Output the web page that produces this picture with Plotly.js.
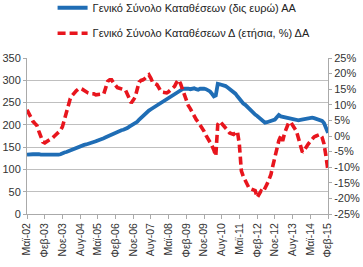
<!DOCTYPE html>
<html><head><meta charset="utf-8">
<script src="https://cdn.plot.ly/plotly-3.0.1.min.js"></script>
<style>html,body{margin:0;padding:0;background:#fff;}#chart{width:363px;height:267px;}</style>
</head><body><div id="chart"></div>
<script>
// Monthly data, May 2002 .. Feb 2015
const startYear = 2002, startMonth = 5;
const depositsBn = [
133,134,135,134,134,135,134,133,133,132,
132,131,131,131,132,133,133,134,137,138,
139,141,142,144,146,148,150,152,154,155,
156,157,158,160,162,163,165,166,168,170,
172,174,176,179,182,184,186,187,188,189,
190,193,196,199,200,203,207,212,216,220,
225,228,232,235,238,240,243,246,248,251,
254,257,259,262,266,269,272,276,279,280,
281,282,281,280,281,282,280,279,281,282,
281,280,278,275,270,264,266,292,291,290,
289,287,284,281,278,274,270,264,258,253,
248,245,240,236,231,226,223,220,216,213,
208,205,206,207,208,209,212,217,222,219,
218,216,215,214,213,212,212,211,210,211,
212,211,212,214,216,216,215,214,213,212,
209,204,194,182];
const depositsYoY = [
8.4,7,5.8,4.7,4,3.4,1.5,-0.5,-1.9,-2.2,
-1.9,-1.3,-1,-0.6,0,0.5,1,1.8,3,5.5,
7.5,10,12,13,14,14.5,15,15.3,15,14.5,
14,13.8,13.6,13.7,13.5,13.2,13.3,13.2,13.4,13.5,
15.5,17.5,18,18,17,16,15.5,15.3,15,14.9,
14.8,13.5,12,10.6,11.5,12.5,15,17.3,17.8,18,
18.5,19,19.6,18.5,17,16.8,16.5,15.5,14.3,14,
13.9,13.8,14.2,14.8,15.4,15.9,17.2,18,16.8,15,
13,11,9.8,8.8,7.5,6.2,5.3,4.5,3.5,2.8,
1.5,0.2,-0.8,-1.8,-3,-4.5,-6.4,3.7,4.7,4,
3.3,2.8,1.8,1,0.7,0.5,1,1.5,-2.7,-11.2,
-13,-14.5,-16,-16.8,-17,-17.2,-17.5,-19.7,-18.5,-17.6,
-18,-17,-15.5,-14,-12.3,-9.5,-6.9,-3.5,-1.5,0,
-1.6,1,2.8,4.2,4.5,3.7,2.5,1.5,-0.8,-3,
-5.2,-4.5,-3.8,-2.6,-1.8,-0.8,-0.3,0,0.3,0.5,
-0.4,-2.5,-6.5,-11.2];
const tickLabels = ['Μαϊ-02','Φεβ-03','Νοε-03','Αυγ-04','Μαϊ-05','Φεβ-06','Νοε-06','Αυγ-07','Μαϊ-08',
'Φεβ-09','Νοε-09','Αυγ-10','Μαϊ-11','Φεβ-12','Νοε-12','Αυγ-13','Μαϊ-14','Φεβ-15'];
const seriesNames = ['Γενικό Σύνολο Καταθέσεων (δις ευρώ) ΑΑ','Γενικό Σύνολο Καταθέσεων Δ (ετήσια, %) ΔΑ'];
const leftTicks = [0,50,100,150,200,250,300,350];
const rightTicks = [-25,-20,-15,-10,-5,0,5,10,15,20,25];

function monthDate(i){
  const t = startYear*12 + (startMonth-1) + i;
  const y = Math.floor(t/12), m = t%12 + 1;
  return y + '-' + String(m).padStart(2,'0') + '-01';
}
const dates = depositsBn.map((_,i)=>monthDate(i));
const tickDates = tickLabels.map((_,i)=>monthDate(i*9));

const fam = 'Liberation Sans, Arial, sans-serif';
const font = {family:fam, size:11, color:'#333'};
const traces = [
  {x:dates, y:depositsBn, name:seriesNames[0], type:'scatter', mode:'lines',
   line:{color:'#1f6db5', width:3.8}, legend:'legend'},
  {x:dates, y:depositsYoY, name:seriesNames[1], type:'scatter', mode:'lines', yaxis:'y2',
   line:{color:'#e8151d', width:3.6, dash:'8px,4px'}, legend:'legend2'}
];
const layout = {
  width:363, height:267, margin:{l:27, r:35, t:58, b:53, autoexpand:false},
  paper_bgcolor:'#fff', plot_bgcolor:'#fff', font:font,
  showlegend:true,
  legend:{x:0.085, y:1.415, xref:'paper', yref:'paper', xanchor:'left', yanchor:'top',
    font:{family:fam, size:11, color:'#222'}, bgcolor:'rgba(0,0,0,0)', itemwidth:30},
  legend2:{x:0.085, y:0.93, xref:'paper', yref:'container', xanchor:'left', yanchor:'top',
    font:{family:fam, size:11, color:'#222'}, bgcolor:'rgba(0,0,0,0)', itemwidth:30},
  xaxis:{type:'date', range:[dates[0], dates[dates.length-1]], tickmode:'array', tickvals:tickDates, ticktext:tickLabels,
    tickangle:-90, ticks:'outside', ticklen:4, tickcolor:'#aaa', showline:true, linecolor:'#aaa', linewidth:1,
    showgrid:false, zeroline:false, tickfont:{family:fam, size:10.5, color:'#333'}},
  yaxis:{range:[0,350], tickvals:leftTicks, showgrid:true, gridcolor:'#bfbfbf', gridwidth:1,
    showline:true, linecolor:'#aaa', ticks:'outside', ticklen:3, tickcolor:'#aaa', zeroline:false,
    tickfont:{family:fam, size:11, color:'#333'}},
  yaxis2:{range:[-25,25], tickvals:rightTicks, ticktext:rightTicks.map(v=>v+'%'), overlaying:'y', side:'right',
    showgrid:false, showline:true, linecolor:'#aaa', ticks:'outside', ticklen:3, tickcolor:'#aaa', zeroline:false,
    tickfont:{family:fam, size:11, color:'#333'}}
};
Plotly.newPlot('chart', traces, layout, {staticPlot:true, displayModeBar:false});
</script></body></html>
